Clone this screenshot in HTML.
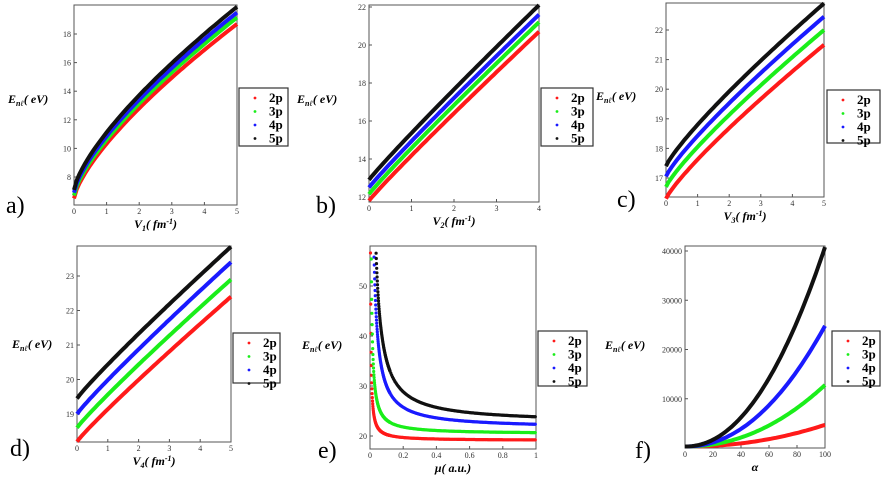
<!DOCTYPE html>
<html><head><meta charset="utf-8"><style>
html,body{margin:0;padding:0;background:#fff;}
svg{display:block}
text{font-family:"Liberation Serif",serif;}
.t{font-size:8px;fill:#333}
.lg{font-size:13px;font-weight:bold;fill:#000}
.pl{font-size:24px;fill:#000}
.al{font-size:12px;font-weight:bold;font-style:italic;fill:#000}
</style></head><body>
<svg id="s" width="887" height="483" viewBox="0 0 887 483" xmlns="http://www.w3.org/2000/svg">
<rect width="887" height="483" fill="#fff"/>
<g id="g"></g>
</svg>
<script>
var g=document.getElementById('g');var h='';
var C=['#ff1a1a','#1aee1a','#1a1aff','#111'];
function panel(P){
 var L=P.L,T=P.T,R=P.R,B=P.B;
 function X(v){return L+(v-P.x0)/(P.x1-P.x0)*(R-L);}
 function Y(v){return P.yb+(v-P.v0)/(P.v1-P.v0)*(P.yt-P.yb);}
 h+='<rect x="'+L+'" y="'+T+'" width="'+(R-L)+'" height="'+(B-T)+'" fill="none" stroke="#555" stroke-width="1"/>';
 P.xt.forEach(function(v){var x=X(v);h+='<line x1="'+x+'" y1="'+B+'" x2="'+x+'" y2="'+(B-3)+'" stroke="#555"/><text class="t" x="'+x+'" y="'+(B+9)+'" text-anchor="middle">'+v+'</text>';});
 P.yt2.forEach(function(v){var y=Y(v);h+='<line x1="'+L+'" y1="'+y+'" x2="'+(L+3)+'" y2="'+y+'" stroke="#555"/><text class="t" x="'+(L-3)+'" y="'+(y+3)+'" text-anchor="end">'+v+'</text>';});
 for(var k=0;k<4;k++){
  if(P.dots){
   var m=0.0008;
   while(m<=1.0){var e=P.f(k,m);
    if(e<=57)h+='<circle cx="'+X(m).toFixed(1)+'" cy="'+Y(e).toFixed(1)+'" r="1.6" fill="'+C[k]+'"/>';
    m+= m<0.12?0.0012:0.005;}
  } else {
   var d='';for(var i=0;i<=60;i++){var t=i/60;var xv=P.x0+t*(P.x1-P.x0);d+=(i?'L':'M')+X(xv).toFixed(1)+' '+Y(P.f(k,t)).toFixed(1);}
   h+='<path d="'+d+'" fill="none" stroke="'+C[k]+'" stroke-width="4"/>';
  }
 }
 var lx=P.lx,ly=P.ly,lw=P.lw||49,lh=P.lh||58;
 h+='<rect x="'+lx+'" y="'+ly+'" width="'+lw+'" height="'+lh+'" fill="#fff" stroke="#333" stroke-width="1.2"/>';
 ['2p','3p','4p','5p'].forEach(function(s,k){var y=ly+10+k*13.5;h+='<circle cx="'+(lx+16)+'" cy="'+y+'" r="1.4" fill="'+C[k]+'"/><text class="lg" x="'+(lx+30)+'" y="'+(y+4)+'">'+s+'</text>';});
 h+='<text class="al" x="'+P.ex+'" y="'+P.ey+'">E<tspan font-size="8" dy="3">nℓ</tspan><tspan dy="-3" font-style="italic">( eV)</tspan></text>';
 h+='<text class="al" x="'+((L+R)/2)+'" y="'+(B+23)+'" text-anchor="middle">'+P.xl+'</text>';
 h+='<text class="pl" x="'+P.px+'" y="'+P.py+'">'+P.p+'</text>';
}
function pw(a,b,p){return function(k,t){return a[k]+(b[k]-a[k])*Math.pow(t,p);};}
panel({L:74,T:5,R:237,B:205,x0:0,x1:5,yb:177,yt:34,v0:8,v1:18,xt:[0,1,2,3,4,5],yt2:[8,10,12,14,16,18],
 f:pw([6.5,6.7,6.9,7.1],[18.7,19.15,19.5,19.9],0.72),lx:239,ly:88,ex:8,ey:103,xl:'V<tspan font-size="8" dy="3">1</tspan><tspan dy="-3">( fm</tspan><tspan font-size="8" dy="-4">-1</tspan><tspan dy="4">)</tspan>',p:'a)',px:6,py:213});
panel({L:369,T:5,R:539,B:202,x0:0,x1:4,yb:197,yt:7,v0:12,v1:22,xt:[0,1,2,3,4],yt2:[12,14,16,18,20,22],
 f:pw([11.8,12.15,12.5,12.9],[20.7,21.2,21.6,22.1],0.95),lx:541,ly:88,lw:52,ex:297,ey:103,xl:'V<tspan font-size="8" dy="3">2</tspan><tspan dy="-3">( fm</tspan><tspan font-size="8" dy="-4">-1</tspan><tspan dy="4">)</tspan>',p:'b)',px:316,py:213});
panel({L:666,T:3,R:824,B:197,x0:0,x1:5,yb:178,yt:30,v0:17,v1:22,xt:[0,1,2,3,4,5],yt2:[17,18,19,20,21,22],
 f:pw([16.3,16.7,17.05,17.4],[21.5,22.0,22.45,22.9],0.85),lx:827,ly:90,lw:53,lh:53,ex:596,ey:100,xl:'V<tspan font-size="8" dy="3">3</tspan><tspan dy="-3">( fm</tspan><tspan font-size="8" dy="-4">-1</tspan><tspan dy="4">)</tspan>',p:'c)',px:617,py:207});
panel({L:77,T:246,R:231,B:442,x0:0,x1:5,yb:414,yt:276,v0:19,v1:23,xt:[0,1,2,3,4,5],yt2:[19,20,21,22,23],
 f:pw([18.2,18.6,19.0,19.45],[22.4,22.9,23.4,23.85],0.93),lx:233,ly:333,lw:47,lh:50,ex:12,ey:348,xl:'V<tspan font-size="8" dy="3">4</tspan><tspan dy="-3">( fm</tspan><tspan font-size="8" dy="-4">-1</tspan><tspan dy="4">)</tspan>',p:'d)',px:10,py:456});
var EA=[19.1,20.4,21.5,22.6],EB=[0.12,0.28,0.85,1.25];
panel({L:370,T:246,R:536,B:449,x0:0,x1:1,yb:436,yt:286,v0:20,v1:50,xt:[0,0.2,0.4,0.6,0.8,1],yt2:[20,30,40,50],dots:true,
 f:function(k,m){return EA[k]+EB[k]/m;},lx:538,ly:331,lw:49,lh:55,ex:302,ey:349,xl:'μ<tspan font-style="italic">( a.u.)</tspan>',p:'e)',px:318,py:458});
var FE=[4700,12800,24800,40800];
panel({L:685,T:246,R:825,B:448,x0:0,x1:100,yb:448,yt:251,v0:0,v1:40000,xt:[0,20,40,60,80,100],yt2:[10000,20000,30000,40000],
 f:function(k,t){return 300+(FE[k]-300)*Math.pow(t,2.1);},lx:832,ly:331,lw:48,lh:55,ex:605,ey:349,xl:'α',p:'f)',px:635,py:458});
g.innerHTML=h;
</script>
</body></html>
